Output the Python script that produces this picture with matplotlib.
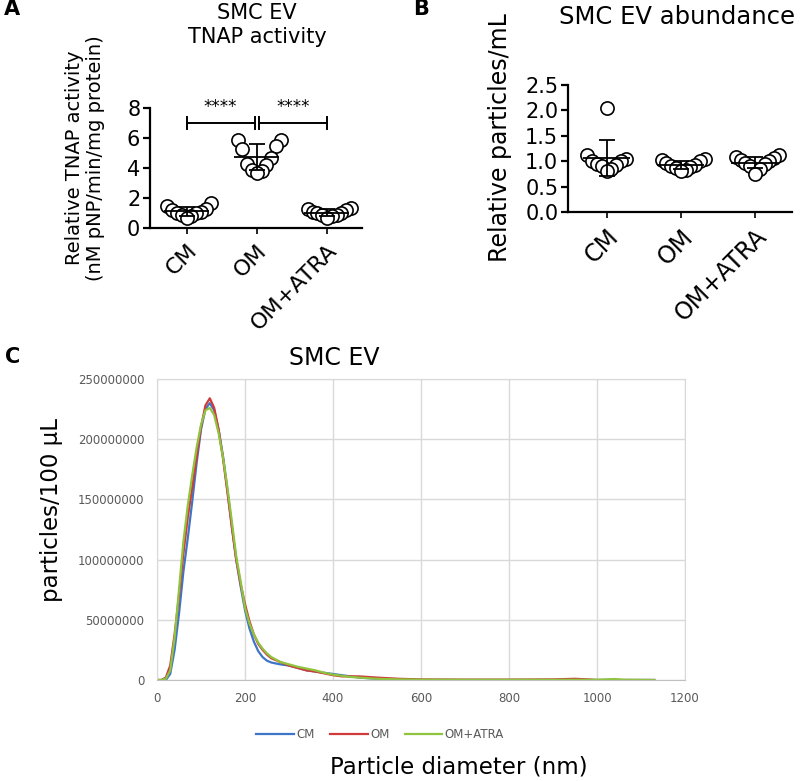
import numpy as np
import matplotlib
matplotlib.use('Agg')
import matplotlib.pyplot as plt

plt.rcParams['font.family'] = ['DejaVu Sans']

groups = ['CM', 'OM', 'OM+ATRA']

# panel A - relative TNAP activity
tnap_cm = [1.7, 1.5, 1.3, 1.2, 1.1, 1.0, 1.0, 0.9, 0.8, 0.7]
tnap_om = [5.9, 5.9, 5.5, 5.3, 4.7, 4.3, 4.2, 3.9, 3.8, 3.7]
tnap_atra = [1.35, 1.3, 1.2, 1.1, 1.0, 1.0, 0.9, 0.9, 0.8, 0.7]

# panel B - relative particles/mL
abund_cm = [2.05, 1.12, 1.05, 1.0, 1.0, 0.95, 0.92, 0.9, 0.85, 0.8]
abund_om = [1.05, 1.03, 1.0, 0.96, 0.93, 0.9, 0.88, 0.86, 0.83, 0.81]
abund_atra = [1.12, 1.08, 1.06, 1.03, 1.0, 0.97, 0.95, 0.9, 0.85, 0.75]

# panel C - size distribution (particles/100 uL, millions)
diam = [0, 10, 20, 30, 40, 50, 60, 70, 80, 90, 100, 110, 120, 130, 140, 150, 160, 170,
        180, 190, 200, 210, 220, 230, 240, 250, 260, 280, 300, 320, 340, 360, 380, 400,
        420, 440, 460, 480, 500, 550, 600, 700, 800, 900, 950, 980, 1000, 1040, 1060, 1130]
nta_cm = [0, 0, 0, 5, 25, 55, 90, 118, 148, 180, 208, 225, 230, 224, 208, 186, 158, 128,
          100, 78, 58, 43, 32, 24, 19, 16, 14.5, 13, 12, 10, 8, 7, 6, 5,
          4, 3, 2, 1.5, 1, 0.5, 0, 0, 0, 0, 0, 0, 0, 0, 0, 0]
nta_om = [0, 0, 2, 12, 38, 70, 105, 135, 160, 185, 210, 228, 234, 226, 208, 184, 156, 127,
          100, 80, 63, 49, 38, 30, 25, 21, 18, 15, 12, 10, 8, 7, 5.5, 4,
          3, 3, 3, 2.5, 2, 1, 0.5, 0.3, 0.3, 0.5, 1.0, 0.5, 0, 0, 0, 0]
nta_atra = [0, 0, 1, 8, 35, 75, 115, 145, 170, 193, 212, 224, 226, 220, 205, 185, 160, 132,
            103, 82, 60, 47, 38, 31, 26, 22, 19, 15, 13, 11, 9.5, 8, 6, 4.5,
            3.5, 2.5, 2, 1.5, 1, 0.5, 0.3, 0.2, 0.2, 0.2, 0.2, 0.2, 0.2, 0.8, 0.2, 0]

W, H = 800, 781
fig = plt.figure(figsize=(W / 100, H / 100), dpi=100)


def px_axes(l, t, r, b):
    return fig.add_axes([l / W, 1 - b / H, (r - l) / W, (b - t) / H])


def v_swarm(vals, pxx, pxy, dot_px=13, step_px=4.8):
    # GraphPad-like: points that overlap vertically are fanned out in a V,
    # lowest in the middle, highest at the edges
    order = np.argsort(vals)
    offs = np.zeros(len(vals))
    cluster = []
    last = None
    for idx in list(order) + [None]:
        if idx is not None and (last is None or (vals[idx] - last) * pxy < dot_px):
            cluster.append(idx)
            last = vals[idx]
            continue
        for r, j in enumerate(cluster):
            k = (r + 1) // 2
            sign = 1 if r % 2 == 1 else -1
            offs[j] = sign * k * step_px / pxx
        if idx is not None:
            cluster = [idx]
            last = vals[idx]
    return offs


def dot_plot(ax, data, ylim, yticks, fmt, width_px, height_px, xfs):
    ax.set_xlim(-0.52, 2.5)
    ax.set_ylim(*ylim)
    pxx = width_px / 3.02
    pxy = height_px / (ylim[1] - ylim[0])
    for i, vals in enumerate(data):
        off = v_swarm(vals, pxx, pxy)
        ax.scatter(off + i, vals, s=90, facecolor='white', edgecolor='black',
                   linewidth=1.2, zorder=3, clip_on=False)
        m = np.mean(vals)
        sd = np.std(vals, ddof=1)
        ax.hlines(m, i - 0.32, i + 0.32, color='black', lw=1.3, zorder=4)
        ax.errorbar(i, m, yerr=sd, fmt='none', ecolor='black', elinewidth=1.3,
                    capsize=6, capthick=1.3, zorder=4)
    for s in ['top', 'right']:
        ax.spines[s].set_visible(False)
    for s in ['left', 'bottom']:
        ax.spines[s].set_linewidth(1.6)
    ax.set_yticks(yticks)
    ax.set_yticklabels([fmt.format(t) for t in yticks], fontsize=15)
    ax.set_xticks(range(3))
    ax.set_xticklabels(groups, rotation=45, ha='right', rotation_mode='anchor', fontsize=xfs)
    ax.tick_params(axis='y', width=1.6, length=5, pad=2)
    ax.tick_params(axis='x', width=1.2, length=4, pad=5)


# ---- A
axA = px_axes(150, 108, 362, 228)
dot_plot(axA, [tnap_cm, tnap_om, tnap_atra], (0, 8), [0, 2, 4, 6, 8], '{:g}', 212, 120, 16)
for x0, x1 in [(0, 0.97), (1.03, 2)]:
    axA.plot([x0, x1], [7.0, 7.0], color='black', lw=1.4, clip_on=False)
    axA.plot([x0, x0], [6.6, 7.4], color='black', lw=1.4, clip_on=False)
    axA.plot([x1, x1], [6.6, 7.4], color='black', lw=1.4, clip_on=False)
    axA.text((x0 + x1) / 2, 7.45, '****', ha='center', va='bottom', fontsize=12)
fig.text(257 / W, 1 - 25 / H, 'SMC EV\nTNAP activity', ha='center', va='center',
         fontsize=15, linespacing=1.25)
fig.text(85 / W, 1 - 158 / H, 'Relative TNAP activity\n(nM pNP/min/mg protein)',
         ha='center', va='center', rotation=90, fontsize=14, linespacing=1.15)
fig.text(12 / W, 1 - 9 / H, 'A', fontsize=15, fontweight='bold', ha='center', va='center')

# ---- B
axB = px_axes(568, 85, 792, 212)
dot_plot(axB, [abund_cm, abund_om, abund_atra], (0, 2.5), [0, 0.5, 1.0, 1.5, 2.0, 2.5],
         '{:.1f}', 224, 127, 17)
fig.text(677 / W, 1 - 17 / H, 'SMC EV abundance', ha='center', va='center', fontsize=17.5)
fig.text(500 / W, 1 - 138 / H, 'Relative particles/mL', ha='center', va='center',
         rotation=90, fontsize=17)
fig.text(421 / W, 1 - 9 / H, 'B', fontsize=15, fontweight='bold', ha='center', va='center')

# ---- C
axC = px_axes(157, 379, 685, 680)
scale = 1e6
axC.plot(diam, np.array(nta_cm) * scale, color='#3f75c6', lw=1.6, label='CM')
axC.plot(diam, np.array(nta_om) * scale, color='#d03a3a', lw=1.6, label='OM')
axC.plot(diam, np.array(nta_atra) * scale, color='#8fc43e', lw=1.6, label='OM+ATRA')
axC.set_xlim(0, 1200)
axC.set_ylim(0, 250000000)
axC.set_xticks(range(0, 1201, 200))
axC.set_yticks(range(0, 250000001, 50000000))
axC.ticklabel_format(style='plain', axis='y')
axC.grid(True, color='#d9d9d9', lw=1.0)
axC.set_axisbelow(True)
for s in axC.spines.values():
    s.set_color('#d9d9d9')
axC.spines['bottom'].set_color('#bfbfbf')
axC.tick_params(length=0, labelsize=8.5, labelcolor='#595959', pad=9)
fig.text(334 / W, 1 - 358 / H, 'SMC EV', ha='center', va='center', fontsize=17)
fig.text(52 / W, 1 - 510 / H, 'particles/100 μL', ha='center', va='center',
         rotation=90, fontsize=16.5)
fig.text(459 / W, 1 - 767 / H, 'Particle diameter (nm)', ha='center', va='center',
         fontsize=16.5)
fig.text(13 / W, 1 - 357 / H, 'C', fontsize=15, fontweight='bold', ha='center', va='center')
leg = fig.legend(loc='center', bbox_to_anchor=(380 / W, 1 - 735 / H), ncol=3,
                 frameon=False, fontsize=8.5, handlelength=3.2, handletextpad=0.2,
                 columnspacing=1.3)
for t in leg.get_texts():
    t.set_color('#595959')

fig.savefig('out.png', dpi=100)
